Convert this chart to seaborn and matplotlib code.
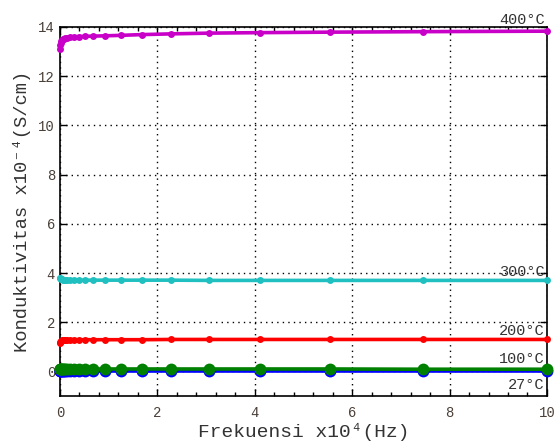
import matplotlib
matplotlib.use("Agg")
import matplotlib.pyplot as plt
import seaborn as sns
import pandas as pd
from matplotlib.ticker import MultipleLocator

# Frequency (x10^4 Hz)
freq = [0.005, 0.01, 0.02, 0.03, 0.045, 0.06, 0.08, 0.11, 0.15, 0.21, 0.29,
        0.39, 0.51, 0.68, 0.92, 1.25, 1.68, 2.28, 3.06, 4.10, 5.55, 7.45, 10.0]

sig_27 = [0.00, 0.00, 0.00, 0.00, 0.00, 0.00, 0.00, 0.00, 0.00, 0.00, 0.00,
          0.00, 0.00, 0.00, 0.00, 0.00, 0.00, 0.00, 0.00, 0.00, 0.00, 0.00, 0.00]
sig_100 = [0.10, 0.10, 0.10, 0.10, 0.10, 0.10, 0.10, 0.10, 0.10, 0.10, 0.10,
           0.10, 0.10, 0.10, 0.10, 0.10, 0.10, 0.10, 0.10, 0.10, 0.10, 0.09, 0.09]
sig_200 = [1.15, 1.20, 1.23, 1.25, 1.26, 1.27, 1.28, 1.28, 1.29, 1.29, 1.29,
           1.29, 1.29, 1.29, 1.29, 1.29, 1.29, 1.30, 1.30, 1.30, 1.30, 1.30, 1.30]
sig_300 = [3.80, 3.78, 3.76, 3.75, 3.74, 3.73, 3.73, 3.72, 3.72, 3.72, 3.72,
           3.71, 3.71, 3.71, 3.71, 3.71, 3.71, 3.71, 3.70, 3.70, 3.70, 3.70, 3.70]
sig_400 = [13.12, 13.25, 13.35, 13.42, 13.47, 13.50, 13.52, 13.55, 13.57, 13.59, 13.60,
           13.61, 13.62, 13.63, 13.64, 13.66, 13.69, 13.72, 13.75, 13.77, 13.79, 13.81, 13.83]

labels = ["27°C", "100°C", "200°C", "300°C", "400°C"]
series = [sig_27, sig_100, sig_200, sig_300, sig_400]

colors = ["#0000ff", "#008000", "#ff0000", "#20c0c0", "#c800c8"]
msizes = [8.5, 8.5, 5, 5, 5]
label_y = [-0.55, 0.5, 1.65, 4.05, 14.3]

sns.set_theme(style="white")
mono = ["Liberation Mono", "DejaVu Sans Mono"]
plt.rcParams["font.family"] = mono

fig = plt.figure(figsize=(5.55, 4.46), dpi=100)
ax = fig.add_axes([0.108, 0.112, 0.8775, 0.8275])

for lab, ys, c, ms in zip(labels, series, colors, msizes):
    df = pd.DataFrame({"f": freq, "s": ys})
    sns.lineplot(data=df, x="f", y="s", ax=ax, color=c, linewidth=2.6,
                 marker="o", markersize=ms, markeredgewidth=0, sort=False,
                 legend=False, clip_on=False, zorder=3)

for lab, yl in zip(labels, label_y):
    ax.text(9.95, yl, lab, ha="right", va="center", fontsize=11,
            color="#333333", family=mono, zorder=4, clip_on=False)

ax.set_xlim(0, 10)
ax.set_ylim(-1, 14)
ax.xaxis.set_major_locator(MultipleLocator(2))
ax.xaxis.set_minor_locator(MultipleLocator(0.4))
ax.yaxis.set_major_locator(MultipleLocator(2))
ax.tick_params(which="both", direction="in", top=True, right=True,
               left=True, bottom=True, colors="black", labelcolor="#4a4038",
               labelsize=10)
ax.tick_params(which="major", length=5, width=1)
ax.tick_params(which="minor", length=3, width=1)
ax.tick_params(axis="x", which="major", pad=7)
ax.grid(True, which="major", color="black", linestyle=(0, (1, 3)), linewidth=1)
for sp in ax.spines.values():
    sp.set_color("black")
    sp.set_linewidth(1.2)

ax.set_xlabel("Frekuensi x10\u2074(Hz)", fontsize=14, color="#333333", labelpad=2)
ax.set_ylabel("Konduktivitas x10\u207b\u2074(S/cm)", fontsize=13.5, color="#333333", labelpad=5)

fig.savefig("out.png", dpi=100)
